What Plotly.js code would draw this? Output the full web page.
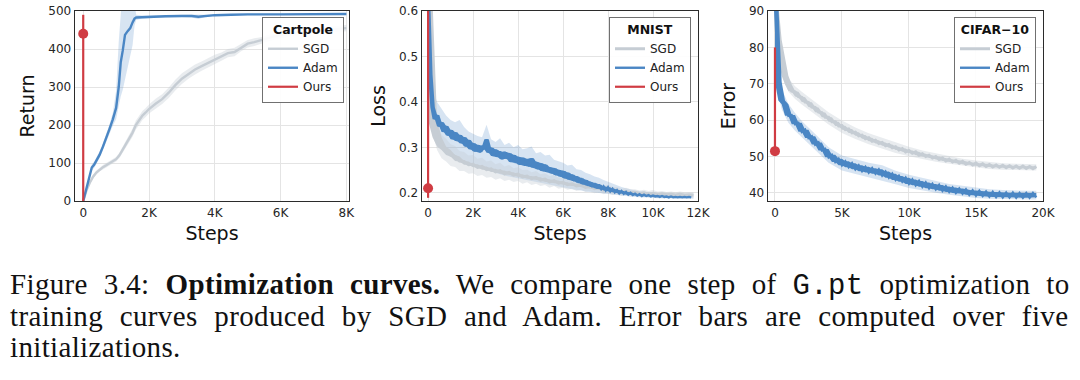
<!DOCTYPE html>
<html>
<head>
<meta charset="utf-8">
<script src="https://cdn.plot.ly/plotly-3.0.1.min.js"></script>
<style>html,body{margin:0;padding:0;background:#fff;}#chart{width:1080px;height:380px;}</style>
</head>
<body>
<div id="chart"></div>
<script>
// ---------------- Data ----------------
// Cartpole
const cpAdamSteps = [0,100,200,260,330,400,500,600,700,800,900,1000,1080,1140,1200,1270,1350,1430,1500,1560,1610,1800,2000,2500,3000,3300,3500,3700,4000,4500,5000,6000,7000,8000];
const cpAdamMean  = [0,35,70,88,95,105,122,143,165,190,215,245,300,365,395,437,447,455,470,480,483,484,485,486,487,487,485,487,489,490,491,491,492,492];
const cpAdamUpper = [0,40,78,96,103,113,131,152,175,202,232,290,420,520,560,580,580,570,560,520,490,488,488,489,490,491,491,490,491,492,493,493,494,494];
const cpAdamLower = [0,30,62,80,87,97,113,134,155,178,198,215,250,275,292,320,350,380,410,462,476,480,482,483,484,483,479,484,487,488,489,489,490,490];
const cpSgdSteps  = [0,100,200,300,400,500,600,700,800,900,1000,1100,1200,1300,1400,1500,1600,1700,1800,1900,2000,2200,2400,2600,2800,3000,3200,3400,3600,3800,4000,4200,4400,4600,4800,5000,5200,5400,5600,5800,6000,6300,6600,7000,7400,7700,8000];
const cpSgdMean   = [0,28,48,64,75,83,89,94,99,104,110,120,135,150,165,180,200,212,225,233,242,256,268,285,305,322,335,346,355,364,373,380,389,392,404,414,418,422,428,433,437,441,445,448,451,453,455];
const cpSgdSpread = [0,3,4,5,5,5,6,6,6,6,6,7,8,9,10,11,12,12,12,12,12,13,13,14,14,14,13,13,12,12,12,11,11,11,10,10,10,9,9,9,9,8,8,8,8,8,8];
const cpOurs = {value: 440, low: 0, high: 490};

// MNIST
const mnAdamSteps = [0,100,200,300,400,500,600,700,800,900,1000,1100,1200,1300,1400,1500,1600,1700,1800,1900,2000,2100,2200,2300,2400,2500,2600,2700,2800,2900,3000,3100,3200,3300,3400,3500,3600,3700,3800,3900,4000,4100,4200,4300,4400,4500,4600,4700,4800,4900,5000,5100,5200,5300,5400,5500,5600,5700,5800,5900,6000,6100,6200,6300,6400,6500,6600,6700,6800,6900,7000,7100,7200,7300,7400,7500,7600,7700,7800,7900,8000,8100,8200,8300,8400,8500,8600,8700,8800,8900,9000,9100,9200,9300,9400,9500,9600,9700,9800,9900,10000,10100,10200,10300,10400,10500,10600,10700,10800,10900,11000,11100,11200,11300,11400,11500,11600,11700];
const mnAdamMean = [
  0.62,0.46,0.388,0.362,0.371,0.346,0.355,0.334,0.347,0.326,
  0.338,0.318,0.333,0.314,0.327,0.309,0.322,0.302,0.316,0.296,
  0.309,0.291,0.305,0.289,0.303,0.296,0.318,0.288,0.299,0.281,
  0.295,0.279,0.291,0.274,0.29,0.275,0.287,0.268,0.283,0.266,
  0.279,0.262,0.277,0.26,0.274,0.258,0.276,0.255,0.268,0.252,
  0.265,0.248,0.262,0.246,0.256,0.243,0.254,0.239,0.25,0.236,
  0.248,0.232,0.244,0.229,0.24,0.226,0.236,0.222,0.232,0.219,
  0.228,0.216,0.224,0.213,0.221,0.21,0.218,0.208,0.214,0.205,
  0.212,0.203,0.209,0.201,0.206,0.199,0.204,0.198,0.202,0.196,
  0.2,0.195,0.198,0.194,0.197,0.193,0.196,0.193,0.195,0.192,
  0.194,0.192,0.193,0.191,0.193,0.191,0.192,0.19,0.192,0.19,
  0.191,0.19,0.191,0.19,0.191,0.19,0.191,0.19];
const mnBandSteps = [0,200,400,600,800,1000,1200,1400,1600,1800,2000,2200,2400,2600,2800,3000,3200,3400,3600,3800,4000,4200,4400,4600,4800,5000,5200,5400,5600,5800,6000,6200,6400,6600,6800,7000,7200,7400,7600,7800,8000,8200,8400,8600,8800,9000,9200,9400,9600,9800,10000,10200,10400,10600,10800,11000,11200,11400,11600,11800];
const mnAdamUpper = [
  0.66,0.43,0.40,0.385,0.37,0.36,0.355,0.36,0.345,0.335,
  0.33,0.325,0.322,0.35,0.318,0.312,0.32,0.305,0.31,0.3,
  0.305,0.296,0.298,0.302,0.287,0.29,0.282,0.284,0.273,0.27,
  0.266,0.26,0.262,0.252,0.25,0.244,0.241,0.236,0.233,0.228,
  0.224,0.22,0.217,0.213,0.21,0.207,0.205,0.204,0.202,0.201,
  0.2,0.2,0.199,0.199,0.198,0.198,0.198,0.197,0.197,0.197];
const mnAdamLower = [
  0.55,0.34,0.315,0.3,0.29,0.283,0.278,0.273,0.268,0.264,
  0.26,0.256,0.253,0.25,0.247,0.244,0.241,0.238,0.236,0.233,
  0.231,0.229,0.227,0.225,0.223,0.221,0.219,0.217,0.215,0.213,
  0.212,0.21,0.208,0.206,0.205,0.203,0.202,0.2,0.199,0.198,
  0.197,0.196,0.195,0.194,0.193,0.192,0.191,0.19,0.19,0.189,
  0.189,0.188,0.188,0.188,0.187,0.187,0.187,0.187,0.187,0.187];
const mnSgdMean = [
  0.62,0.36,0.322,0.302,0.294,0.283,0.28,0.27,0.269,0.262,
  0.263,0.256,0.258,0.251,0.253,0.246,0.249,0.242,0.245,0.239,
  0.241,0.235,0.237,0.231,0.234,0.228,0.23,0.224,0.227,0.221,
  0.223,0.218,0.22,0.215,0.217,0.212,0.214,0.209,0.211,0.206,
  0.208,0.204,0.205,0.201,0.203,0.2,0.201,0.198,0.2,0.197,
  0.199,0.196,0.198,0.196,0.197,0.195,0.197,0.195,0.196,0.195];
const mnSgdSpread = [
  0.03,0.03,0.028,0.026,0.025,0.024,0.023,0.022,0.021,0.02,
  0.02,0.019,0.019,0.018,0.018,0.017,0.017,0.016,0.016,0.015,
  0.015,0.015,0.014,0.014,0.014,0.013,0.013,0.013,0.012,0.012,
  0.012,0.011,0.011,0.011,0.01,0.01,0.01,0.01,0.009,0.009,
  0.009,0.009,0.008,0.008,0.008,0.008,0.007,0.007,0.007,0.007,
  0.007,0.007,0.006,0.006,0.006,0.006,0.006,0.006,0.006,0.006];
const mnOurs = {value: 0.21, low: 0.189, high: 0.62};

// CIFAR-10
const cfSteps = [0,250,500,750,1000,1250,1500,1750,2000,2250,2500,2750,3000,3250,3500,3750,4000,4250,4500,4750,5000,5250,5500,5750,6000,6250,6500,6750,7000,7250,7500,7750,8000,8250,8500,8750,9000,9250,9500,9750,10000,10250,10500,10750,11000,11250,11500,11750,12000,12250,12500,12750,13000,13250,13500,13750,14000,14250,14500,14750,15000,15250,15500,15750,16000,16250,16500,16750,17000,17250,17500,17750,18000,18250,18500,18750,19000,19250,19500];
const cfSgdMean = [
  92,82,77.3,72.2,69.8,68.0,67.8,66.5,66.3,65.0,
  64.9,63.6,63.5,62.2,62.1,60.8,60.8,59.6,59.6,58.4,
  58.5,57.4,57.6,56.5,56.7,55.7,55.9,54.9,55.2,54.2,
  54.5,53.6,53.9,53.0,53.3,52.4,52.7,51.8,52.2,51.3,
  51.7,50.9,51.3,50.4,50.8,50.0,50.4,49.6,50.0,49.2,
  49.6,48.8,49.3,48.5,49.0,48.2,48.7,47.9,48.4,47.7,
  48.2,47.5,48.0,47.3,47.8,47.15,47.7,47.05,47.6,46.95,
  47.5,46.85,47.4,46.8,47.4,46.75,47.3,46.7,47.3];
const cfAdamMean = [
  92,70.5,65.4,64.4,61.2,61.4,58.9,59.3,56.8,57.4,
  55.1,55.6,53.3,53.9,51.7,52.1,49.8,50.5,48.5,49.4,
  47.6,48.7,47.1,48.2,46.5,47.6,46.0,47.2,45.6,46.8,
  45.3,46.5,44.8,45.9,44.2,45.3,43.6,44.7,43.1,44.2,
  42.5,43.7,42.1,43.3,41.7,42.9,41.3,42.5,41.0,42.2,
  40.6,41.8,40.3,41.5,40.0,41.2,39.8,41.0,39.5,40.7,
  39.3,40.6,39.2,40.4,39.0,40.3,38.9,40.2,38.8,40.1,
  38.8,40.1,38.7,40.0,38.7,40.0,38.7,40.0,38.8];
const cfBandSteps = [0,250,500,750,1000,1500,2000,3000,4000,5000,6000,7000,8000,9000,10000,11000,12000,13000,14000,15000,16000,17000,18000,19000,19500];
const cfAdamUpper = [93,73.5,68.5,66.5,64.5,62,59.8,56.2,52.6,50.3,49.2,48.3,47.6,46.1,45,44.1,43.3,42.5,42,41.4,41,40.8,40.6,40.6,40.6];
const cfAdamLower = [90,67,63,61,59.3,57.1,55.3,51.8,48.3,46.2,45.2,44.3,43.4,42.4,41.4,40.7,40.1,39.5,39,38.6,38.4,38.2,38.2,38.2,38.2];
const cfSgdUpper  = [93,84,79.5,74.5,71.5,69.3,67.8,65,62.2,59.9,58,56.4,55.1,53.8,52.7,51.7,50.9,50.1,49.4,48.9,48.5,48.2,48,47.9,47.9];
const cfSgdLower  = [91,80,75,70.5,67.8,65.8,64.3,61.5,58.8,56.5,54.8,53.4,52.1,51,50.1,49.3,48.6,48,47.5,47,46.6,46.4,46.3,46.2,46.2];
const cfOurs = {value: 51.5, low: 51.5, high: 80};

// Axis ticks / labels
const cpXTicks = [0,2000,4000,6000,8000], cpXLabels = ['0','2K','4K','6K','8K'];
const cpYTicks = [0,100,200,300,400,500];
const mnXTicks = [0,2000,4000,6000,8000,10000,12000], mnXLabels = ['0','2K','4K','6K','8K','10K','12K'];
const mnYTicks = [0.2,0.3,0.4,0.5,0.6], mnYLabels = ['0.2','0.3','0.4','0.5','0.6'];
const cfXTicks = [0,5000,10000,15000,20000], cfXLabels = ['0','5K','10K','15K','20K'];
const cfYTicks = [40,50,60,70,80,90];
const panelTitles = ['Cartpole','MNIST','CIFAR\u221210'];
const yTitles = ['Return','Loss','Error'];
const seriesNames = ['SGD','Adam','Ours'];

// ---------------- Styles ----------------
const C_SGD = '#c6cdd4', C_ADAM = '#4a86c4', C_OURS = '#d03c43';
const F_BAND_SGD = 'rgba(196,205,214,0.38)', F_BAND_ADAM = 'rgba(74,134,196,0.22)';
const FONT = 'DejaVu Sans, Liberation Sans, sans-serif';

function band(x, lo, hi, fill, xa, ya) {
  return {x: x.concat(x.slice().reverse()), y: hi.concat(lo.slice().reverse()),
    type:'scatter', mode:'lines', fill:'toself', fillcolor: fill, line:{width:0},
    hoverinfo:'skip', showlegend:false, xaxis:xa, yaxis:ya};
}
// solid envelope of a noisy per-step curve (neighbour min/max of the plotted values)
function envelope(x, y, color, xa, ya) {
  const lo = y.map((v,i)=>Math.min(...y.slice(Math.max(0,i-1), i+2)));
  const hi = y.map((v,i)=>Math.max(...y.slice(Math.max(0,i-1), i+2)));
  return band(x, lo, hi, color, xa, ya);
}
function line(x, y, name, color, width, xa, ya, leg) {
  return {x, y, name, type:'scatter', mode:'lines', line:{color, width},
    showlegend: true, legend: leg, xaxis:xa, yaxis:ya};
}
function ours(o, xa, ya, leg) {
  return [
    {x:[0,0], y:[o.low,o.high], name:'Ours', type:'scatter', mode:'lines',
     line:{color:C_OURS, width:2.2}, legend:leg, xaxis:xa, yaxis:ya},
    {x:[0], y:[o.value], type:'scatter', mode:'markers', marker:{color:C_OURS, size:10},
     showlegend:false, xaxis:xa, yaxis:ya}
  ];
}
const plus = (a,b) => a.map((v,i)=>v+b[i]);
const minus = (a,b) => a.map((v,i)=>v-b[i]);

const traces = [
  // Cartpole
  band(cpAdamSteps, cpAdamLower, cpAdamUpper, F_BAND_ADAM, 'x','y'),
  band(cpSgdSteps, minus(cpSgdMean,cpSgdSpread), plus(cpSgdMean,cpSgdSpread), F_BAND_SGD, 'x','y'),
  line(cpSgdSteps, cpSgdMean, seriesNames[0], C_SGD, 2.4, 'x','y','legend'),
  line(cpAdamSteps, cpAdamMean, seriesNames[1], C_ADAM, 2.4, 'x','y','legend'),
  ...ours(cpOurs,'x','y','legend'),
  // MNIST
  band(mnBandSteps, mnAdamLower, mnAdamUpper, F_BAND_ADAM, 'x2','y2'),
  band(mnBandSteps, minus(mnSgdMean,mnSgdSpread), plus(mnSgdMean,mnSgdSpread), F_BAND_SGD, 'x2','y2'),
  envelope(mnBandSteps, mnSgdMean, C_SGD, 'x2','y2'),
  line(mnBandSteps, mnSgdMean, seriesNames[0], C_SGD, 3, 'x2','y2','legend2'),
  envelope(mnAdamSteps, mnAdamMean, C_ADAM, 'x2','y2'),
  line(mnAdamSteps, mnAdamMean, seriesNames[1], C_ADAM, 2.4, 'x2','y2','legend2'),
  ...ours(mnOurs,'x2','y2','legend2'),
  // CIFAR
  band(cfBandSteps, cfAdamLower, cfAdamUpper, F_BAND_ADAM, 'x3','y3'),
  band(cfBandSteps, cfSgdLower, cfSgdUpper, F_BAND_SGD, 'x3','y3'),
  envelope(cfSteps, cfSgdMean, C_SGD, 'x3','y3'),
  line(cfSteps, cfSgdMean, seriesNames[0], C_SGD, 3, 'x3','y3','legend3'),
  envelope(cfSteps, cfAdamMean, C_ADAM, 'x3','y3'),
  line(cfSteps, cfAdamMean, seriesNames[1], C_ADAM, 2.4, 'x3','y3','legend3'),
  ...ours(cfOurs,'x3','y3','legend3'),
];

const W = 1080, H = 380;
const px = v => v / W, py = v => 1 - v / H;

function xaxis(dom, range, tv, tt, anchor) {
  return {domain:[px(dom[0]),px(dom[1])], range, anchor, tickvals:tv, ticktext:tt,
    showgrid:true, gridcolor:'#e4e4e4', gridwidth:1, zeroline:false,
    showline:true, mirror:true, linecolor:'#2b2b2b', linewidth:1.4, ticks:'',
    tickfont:{family:FONT, size:12, color:'#262626'},
    title:{text:'Steps', font:{family:FONT, size:19, color:'#111'}, standoff:8}};
}
function yaxis(range, tv, tt, anchor, title) {
  const ax = {domain:[py(201), py(11)], range, anchor, tickvals:tv,
    showgrid:true, gridcolor:'#e4e4e4', gridwidth:1, zeroline:false,
    showline:true, mirror:true, linecolor:'#2b2b2b', linewidth:1.4, ticks:'',
    tickfont:{family:FONT, size:12, color:'#262626'},
    title:{text:title, font:{family:FONT, size:19, color:'#111'}, standoff:8}};
  if (tt) ax.ticktext = tt;
  return ax;
}
function legend(right, title) {
  return {x:px(right), y:py(17), xanchor:'right', yanchor:'top', xref:'paper', yref:'paper',
    bgcolor:'rgba(255,255,255,0.9)', bordercolor:'#707070', borderwidth:1,
    font:{family:FONT, size:12, color:'#222'}, itemwidth:30, tracegroupgap:0,
    title:{text:'<b>'+title+'</b>', side:'top center', font:{family:FONT, size:12.5, color:'#111'}}};
}

// Caption (Computer Modern look-alike, justified with word spacing)
const SERIF = 'Liberation Serif', MONO = 'Liberation Mono';
const capLine1 = [['Figure 3.4: ', 'normal', SERIF], ['Optimization curves.', 'bold', SERIF],
                  [' We compare one step of ', 'normal', SERIF], ['G.pt', 'normal', MONO], [' optimization to', 'normal', SERIF]];
const capLine2 = [['training curves produced by SGD and Adam. Error bars are computed over five', 'normal', SERIF]];
const capLine3 = [['initializations.', 'normal', SERIF]];
const CAP_FS = 29, LS = 0.35, targetW = 1060;
const ctx = document.createElement('canvas').getContext('2d');
function natWidth(parts) {
  let w = 0;
  parts.forEach(p => { ctx.font = p[1] + ' ' + CAP_FS + 'px "' + p[2] + '"'; w += ctx.measureText(p[0]).width + LS * p[0].length; });
  return w;
}
function spaces(parts) { return parts.reduce((n,p)=>n + (p[0].match(/ /g)||[]).length, 0); }
function toHtml(parts, ws) {
  return parts.map(p => {
    let st = 'letter-spacing:' + LS + 'px;word-spacing:' + ws.toFixed(2) + 'px';
    if (p[2] === MONO) st += ';font-family:' + MONO;
    let t = '<span style="' + st + '">' + p[0] + '</span>';
    if (p[1] === 'bold') t = '<b>' + t + '</b>';
    return t;
  }).join('');
}
const ws1 = Math.max(0, (targetW - natWidth(capLine1)) / spaces(capLine1));
const ws2 = Math.max(0, (targetW - natWidth(capLine2)) / spaces(capLine2));
const capAnn = (parts, y, ws) => ({xref:'paper', yref:'paper', x:px(8), y:py(y), xanchor:'left', yanchor:'middle',
  text: toHtml(parts, ws), showarrow:false, font:{family:SERIF, size:CAP_FS, color:'#111'}});

const layout = {
  width:W, height:H, margin:{l:0,r:0,t:0,b:0}, paper_bgcolor:'#fff', plot_bgcolor:'#fff',
  showlegend:true, font:{family:FONT},
  xaxis:  xaxis([75,349],  [-250,8080], cpXTicks, cpXLabels, 'y'),
  yaxis:  yaxis([0,500], cpYTicks, null, 'x', yTitles[0]),
  xaxis2: xaxis([422,698], [-270,12000], mnXTicks, mnXLabels, 'y2'),
  yaxis2: yaxis([0.182,0.6], mnYTicks, mnYLabels, 'x2', yTitles[1]),
  xaxis3: xaxis([768,1043], [-520,20000], cfXTicks, cfXLabels, 'y3'),
  yaxis3: yaxis([37.8,90], cfYTicks, null, 'x3', yTitles[2]),
  legend:  legend(344, panelTitles[0]),
  legend2: legend(691, panelTitles[1]),
  legend3: legend(1036, panelTitles[2]),
  annotations: [capAnn(capLine1, 285, ws1), capAnn(capLine2, 316, ws2), capAnn(capLine3, 347, 0)]
};

Plotly.newPlot('chart', traces, layout, {staticPlot:true, displayModeBar:false});
</script>
</body>
</html>
